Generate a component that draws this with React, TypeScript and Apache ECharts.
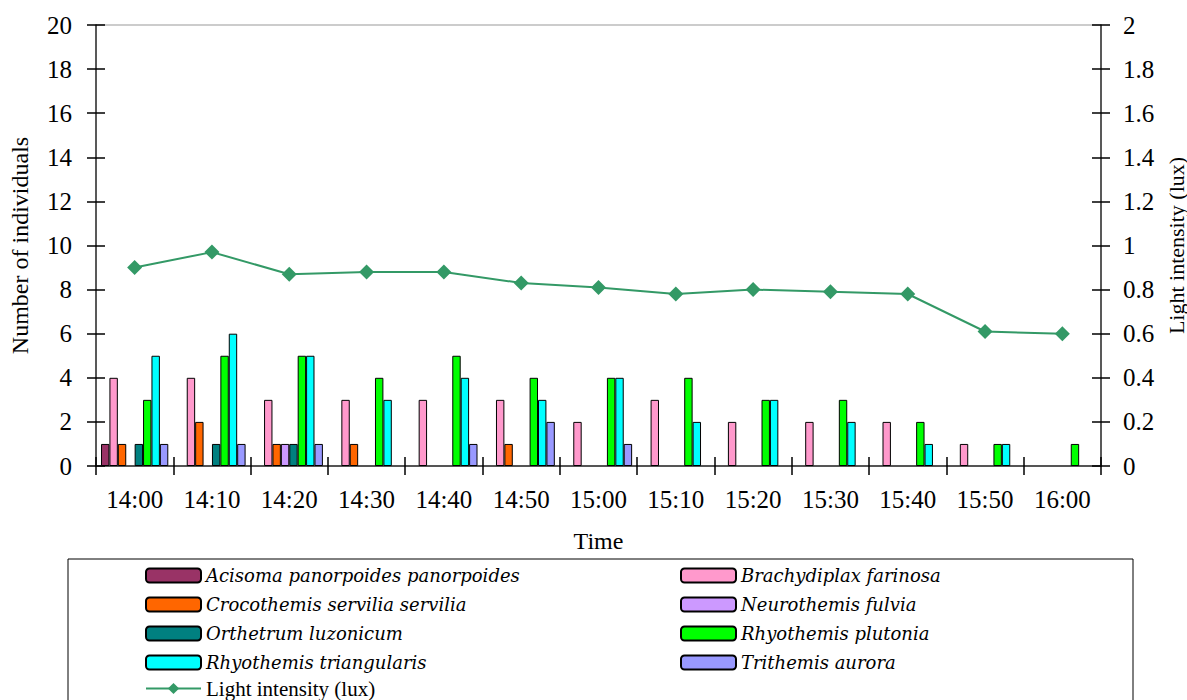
import React, { useEffect, useRef } from "react";
import * as echarts from "echarts";

const categories = ["14:00", "14:10", "14:20", "14:30", "14:40", "14:50", "15:00", "15:10", "15:20", "15:30", "15:40", "15:50", "16:00"];

const acisoma = [1, 0, 0, 0, 0, 0, 0, 0, 0, 0, 0, 0, 0];
const brachydiplax = [4, 4, 3, 3, 3, 3, 2, 3, 2, 2, 2, 1, 0];
const crocothemis = [1, 2, 1, 1, 0, 1, 0, 0, 0, 0, 0, 0, 0];
const neurothemis = [0, 0, 1, 0, 0, 0, 0, 0, 0, 0, 0, 0, 0];
const orthetrum = [1, 1, 1, 0, 0, 0, 0, 0, 0, 0, 0, 0, 0];
const plutonia = [3, 5, 5, 4, 5, 4, 4, 4, 3, 3, 2, 1, 1];
const triangularis = [5, 6, 5, 3, 4, 3, 4, 2, 3, 2, 1, 1, 0];
const trithemis = [1, 1, 1, 0, 1, 2, 1, 0, 0, 0, 0, 0, 0];
const lightIntensity = [0.9, 0.97, 0.87, 0.88, 0.88, 0.83, 0.81, 0.78, 0.8, 0.79, 0.78, 0.61, 0.6];

const leftTicks = { min: 0, max: 20, interval: 2 };
const rightTicks = { min: 0, max: 2, interval: 0.2 };

const barSeries = [
  { name: "Acisoma panorpoides panorpoides", data: acisoma, color: "#993366" },
  { name: "Brachydiplax farinosa", data: brachydiplax, color: "#FF99CC" },
  { name: "Crocothemis servilia servilia", data: crocothemis, color: "#FF6600" },
  { name: "Neurothemis fulvia", data: neurothemis, color: "#CC99FF" },
  { name: "Orthetrum luzonicum", data: orthetrum, color: "#008080" },
  { name: "Rhyothemis plutonia", data: plutonia, color: "#00FF00" },
  { name: "Rhyothemis triangularis", data: triangularis, color: "#00FFFF" },
  { name: "Trithemis aurora", data: trithemis, color: "#9999FF" },
];

const lineName = "Light intensity (lux)";
const lineColor = "#339966";

const SERIF = "'Liberation Serif', 'Times New Roman', serif";
const SERIF_ITALIC = "'DejaVu Serif', 'Liberation Serif', serif";

export default function App() {
  const ref = useRef<HTMLDivElement>(null);
  useEffect(() => {
    document.body.style.margin = "0";
    const chart = echarts.init(ref.current!, null, { renderer: "svg" });
    const legendCommon = {
      orient: "vertical" as const,
      itemWidth: 55,
      itemHeight: 14,
      itemGap: 8,
      padding: 0,
    };
    const italicText = { fontFamily: SERIF_ITALIC, fontStyle: "italic", fontSize: 18, color: "#000", height: 21, lineHeight: 21 };
    const plainText = { fontFamily: SERIF, fontSize: 21, color: "#000" };
    const option: any = {
      animation: false,
      backgroundColor: "#fff",
      grid: {
        left: 96, right: 86, top: 25, bottom: 234,
        outerBoundsMode: "none",
        containLabel: false,
        show: true, borderColor: "#999", borderWidth: 1, backgroundColor: "transparent",
      },
      xAxis: [
        {
          type: "category",
          data: categories,
          name: "Time",
          nameLocation: "middle",
          nameGap: 63,
          nameTextStyle: { fontFamily: SERIF, fontSize: 24, color: "#000" },
          axisLine: { lineStyle: { color: "#555", width: 2 } },
          axisTick: { show: true, length: 9, lineStyle: { color: "#000", width: 1.5 } },
          axisLabel: { fontFamily: SERIF, fontSize: 25, color: "#000", margin: 21 },
        },
        {
          type: "category",
          data: categories,
          position: "bottom",
          axisLine: { show: false },
          axisTick: { show: true, inside: true, length: 9, lineStyle: { color: "#000", width: 1.5 } },
          axisLabel: { show: false },
        },
      ],
      yAxis: [
        {
          type: "value",
          ...leftTicks,
          name: "Number of individuals",
          nameLocation: "middle",
          nameGap: 64,
          nameRotate: 90,
          nameTextStyle: { fontFamily: SERIF, fontSize: 24, color: "#000" },
          axisLine: { show: true, lineStyle: { color: "#333", width: 1.5 } },
          axisTick: { show: true, length: 9, lineStyle: { color: "#000", width: 1.5 } },
          axisLabel: { fontFamily: SERIF, fontSize: 25, color: "#000", margin: 24 },
          splitLine: { show: false },
        },
        {
          type: "value",
          ...rightTicks,
          position: "right",
          name: lineName,
          nameLocation: "middle",
          nameGap: 55,
          nameRotate: 90,
          nameTextStyle: { fontFamily: SERIF, fontSize: 22, color: "#000" },
          axisLine: { show: true, lineStyle: { color: "#333", width: 1.5 } },
          axisTick: { show: true, length: 9, lineStyle: { color: "#000", width: 1.5 } },
          axisLabel: { fontFamily: SERIF, fontSize: 25, color: "#000", margin: 22 },
          splitLine: { show: false },
        },
        {
          type: "value",
          ...leftTicks,
          position: "left",
          axisLine: { show: false },
          axisTick: { show: true, inside: true, length: 9, lineStyle: { color: "#000", width: 1.5 } },
          axisLabel: { show: false },
          splitLine: { show: false },
        },
        {
          type: "value",
          ...rightTicks,
          position: "right",
          axisLine: { show: false },
          axisTick: { show: true, inside: true, length: 9, lineStyle: { color: "#000", width: 1.5 } },
          axisLabel: { show: false },
          splitLine: { show: false },
        },
      ],
      legend: [
        {
          ...legendCommon,
          left: 145,
          top: 565,
          textStyle: italicText,
          data: [barSeries[0].name, barSeries[2].name, barSeries[4].name, barSeries[6].name],
        },
        {
          ...legendCommon,
          left: 145,
          top: 678,
          textStyle: plainText,
          data: [lineName],
        },
        {
          ...legendCommon,
          left: 680,
          top: 565,
          textStyle: italicText,
          data: [barSeries[1].name, barSeries[3].name, barSeries[5].name, barSeries[7].name],
        },
      ],
      graphic: [
        {
          type: "rect",
          shape: { x: 68, y: 559, width: 1065, height: 160 },
          style: { fill: "none", stroke: "#000", lineWidth: 1 },
          silent: true,
        },
      ],
      series: [
        ...barSeries.map((s) => ({
          name: s.name,
          type: "bar",
          xAxisIndex: 0,
          yAxisIndex: 0,
          barGap: "0%",
          barCategoryGap: "13%",
          data: s.data.map((v) => (v === 0 ? "-" : v)),
          itemStyle: { color: s.color, borderColor: "#000", borderWidth: 1 },
        })),
        {
          name: lineName,
          type: "line",
          xAxisIndex: 0,
          yAxisIndex: 1,
          data: lightIntensity,
          symbol: "diamond",
          symbolSize: 15,
          lineStyle: { color: lineColor, width: 2 },
          itemStyle: { color: lineColor },
        },
      ],
    };
    chart.setOption(option);
    return () => chart.dispose();
  }, []);
  return <div ref={ref} style={{ width: 1187, height: 700 }} />;
}
